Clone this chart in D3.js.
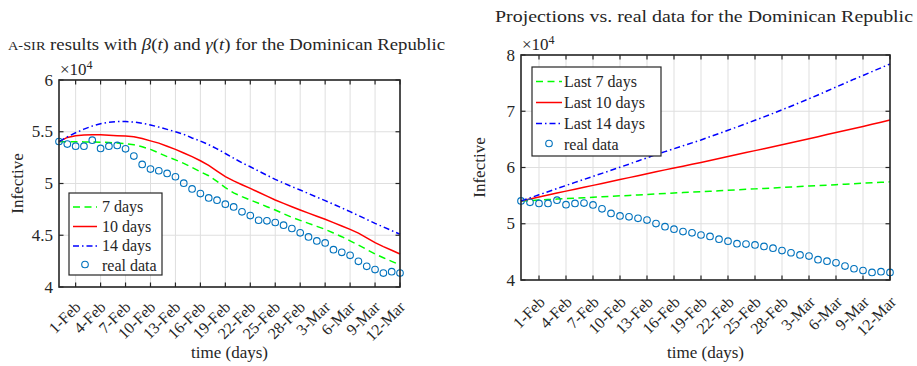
<!DOCTYPE html>
<html>
<head>
<meta charset="utf-8">
<script src="https://cdn.jsdelivr.net/npm/d3@7"></script>
<style>
  body { margin: 0; background: #fff; }
  svg text { font-family: 'Liberation Serif', 'DejaVu Serif', 'Times New Roman', serif; fill: #262626; }
</style>
</head>
<body>
<svg id="chart" width="917" height="366" font-family="Liberation Serif, DejaVu Serif, serif"></svg>
<script>
// first day of the series, one value per day after that
const startDate = new Date(2021, 0, 30);

const tickLabels = ["1-Feb", "4-Feb", "7-Feb", "10-Feb", "13-Feb", "16-Feb", "19-Feb",
  "22-Feb", "25-Feb", "28-Feb", "3-Mar", "6-Mar", "9-Mar", "12-Mar"];

// values in units of 10^4
const realData = [5.406, 5.381, 5.361, 5.361, 5.419, 5.339, 5.361, 5.368, 5.335, 5.265,
  5.184, 5.139, 5.123, 5.097, 5.065, 5.003, 4.948, 4.903, 4.861, 4.839,
  4.800, 4.774, 4.726, 4.690, 4.645, 4.639, 4.623, 4.597, 4.565, 4.523,
  4.484, 4.445, 4.426, 4.361, 4.335, 4.306, 4.248, 4.200, 4.168, 4.135,
  4.148, 4.135];

const fit7 = [5.404, 5.404, 5.403, 5.402, 5.401, 5.399, 5.396, 5.392, 5.385, 5.375,
  5.355, 5.330, 5.295, 5.260, 5.228, 5.195, 5.155, 5.114, 5.075, 5.020,
  4.960, 4.910, 4.873, 4.840, 4.809, 4.776, 4.744, 4.708, 4.673, 4.644,
  4.615, 4.586, 4.557, 4.522, 4.486, 4.446, 4.406, 4.362, 4.319, 4.283,
  4.248, 4.213];

const fit10 = [5.404, 5.445, 5.462, 5.468, 5.472, 5.472, 5.467, 5.462, 5.458, 5.452,
  5.435, 5.412, 5.390, 5.360, 5.330, 5.295, 5.260, 5.220, 5.175, 5.120,
  5.066, 5.025, 4.988, 4.953, 4.915, 4.878, 4.841, 4.808, 4.776, 4.744,
  4.714, 4.684, 4.654, 4.622, 4.590, 4.557, 4.520, 4.475, 4.428, 4.390,
  4.355, 4.319];

const fit14 = [5.404, 5.450, 5.490, 5.525, 5.555, 5.578, 5.592, 5.598, 5.598, 5.594,
  5.582, 5.566, 5.545, 5.523, 5.500, 5.475, 5.440, 5.410, 5.375, 5.335,
  5.290, 5.245, 5.200, 5.162, 5.120, 5.080, 5.040, 5.005, 4.970, 4.937,
  4.903, 4.868, 4.834, 4.800, 4.764, 4.728, 4.690, 4.653, 4.615, 4.580,
  4.545, 4.510];

const proj7 = [5.404, 5.413, 5.421, 5.430, 5.438, 5.446, 5.455, 5.463, 5.471, 5.479,
  5.488, 5.496, 5.504, 5.513, 5.521, 5.529, 5.537, 5.546, 5.554, 5.562,
  5.570, 5.578, 5.587, 5.595, 5.603, 5.612, 5.620, 5.628, 5.636, 5.645,
  5.653, 5.661, 5.670, 5.678, 5.686, 5.695, 5.703, 5.711, 5.720, 5.728,
  5.737, 5.745];

const proj10 = [5.404, 5.440, 5.475, 5.510, 5.545, 5.580, 5.614, 5.648, 5.682, 5.716,
  5.750, 5.785, 5.820, 5.855, 5.890, 5.925, 5.958, 5.990, 6.023, 6.056,
  6.090, 6.125, 6.160, 6.195, 6.230, 6.265, 6.300, 6.335, 6.370, 6.405,
  6.440, 6.476, 6.512, 6.548, 6.585, 6.622, 6.658, 6.694, 6.730, 6.768,
  6.806, 6.844];

const proj14 = [5.404, 5.460, 5.515, 5.570, 5.625, 5.680, 5.735, 5.788, 5.842, 5.896,
  5.950, 6.005, 6.060, 6.117, 6.173, 6.230, 6.282, 6.334, 6.386, 6.438,
  6.490, 6.547, 6.604, 6.662, 6.720, 6.780, 6.840, 6.900, 6.962, 7.026,
  7.090, 7.156, 7.222, 7.290, 7.360, 7.430, 7.500, 7.570, 7.635, 7.705,
  7.772, 7.840];

const fitNames = ["7 days", "10 days", "14 days", "real data"];
const projNames = ["Last 7 days", "Last 10 days", "Last 14 days", "real data"];
const leftYTicks = [4, 4.5, 5, 5.5, 6];
const rightYTicks = [4, 5, 6, 7, 8];

const lineStyles = [
  { color: "#00ff00", dash: "7,4.5" },
  { color: "#ff0000", dash: null },
  { color: "#0000ff", dash: "6,3,1.5,3" }
];
const dotColor = "#0072bd";

const svg = d3.select("#chart");
const parseTick = d3.timeParse("%d-%b-%Y");
const tickDates = tickLabels.map(l => parseTick(l + "-2021"));
const dates = realData.map((_, i) => d3.timeDay.offset(startDate, i));

function drawPanel(p) {
  const x = d3.scaleTime().domain([dates[0], dates[dates.length - 1]]).range([p.left, p.right]);
  const y = d3.scaleLinear().domain(p.yDomain).range([p.bottom, p.top]);
  const g = svg.append("g");

  // grid
  g.selectAll("line.vgrid").data(tickDates).enter().append("line")
    .attr("x1", d => x(d)).attr("x2", d => x(d))
    .attr("y1", p.top).attr("y2", p.bottom)
    .attr("stroke", "#dfdfdf").attr("stroke-width", 1);
  g.selectAll("line.hgrid").data(p.yTicks).enter().append("line")
    .attr("x1", p.left).attr("x2", p.right)
    .attr("y1", d => y(d)).attr("y2", d => y(d))
    .attr("stroke", "#dfdfdf").attr("stroke-width", 1);

  // series
  const line = d3.line().x((d, i) => x(dates[i])).y(d => y(d));
  p.series.forEach((s, k) => {
    g.append("path")
      .attr("d", line(s))
      .attr("fill", "none")
      .attr("stroke", lineStyles[k].color)
      .attr("stroke-width", 1.5)
      .attr("stroke-dasharray", lineStyles[k].dash);
  });
  g.selectAll("circle.real").data(realData).enter().append("circle")
    .attr("cx", (d, i) => x(dates[i])).attr("cy", d => y(d))
    .attr("r", 3.3).attr("fill", "none")
    .attr("stroke", dotColor).attr("stroke-width", 1.1);

  // ticks on all four sides, pointing inward
  const tl = 4.5;
  tickDates.forEach(d => {
    g.append("line").attr("x1", x(d)).attr("x2", x(d)).attr("y1", p.bottom).attr("y2", p.bottom - tl)
      .attr("stroke", "#262626").attr("stroke-width", 1.2);
    g.append("line").attr("x1", x(d)).attr("x2", x(d)).attr("y1", p.top).attr("y2", p.top + tl)
      .attr("stroke", "#262626").attr("stroke-width", 1.2);
  });
  p.yTicks.forEach(v => {
    g.append("line").attr("x1", p.left).attr("x2", p.left + tl).attr("y1", y(v)).attr("y2", y(v))
      .attr("stroke", "#262626").attr("stroke-width", 1.2);
    g.append("line").attr("x1", p.right).attr("x2", p.right - tl).attr("y1", y(v)).attr("y2", y(v))
      .attr("stroke", "#262626").attr("stroke-width", 1.2);
  });

  // box
  g.append("rect")
    .attr("x", p.left).attr("y", p.top)
    .attr("width", p.right - p.left).attr("height", p.bottom - p.top)
    .attr("fill", "none").attr("stroke", "#262626").attr("stroke-width", 1.6);

  // y tick labels
  g.selectAll("text.ylab").data(p.yTicks).enter().append("text")
    .attr("x", p.left - 6).attr("y", d => y(d) + 5.5)
    .attr("text-anchor", "end").attr("font-size", 17)
    .text(d => String(d));

  // x tick labels, rotated
  g.selectAll("text.xlab").data(tickDates).enter().append("text")
    .attr("transform", d => `translate(${x(d) + p.xlabDx},${p.bottom + p.xlabDy}) rotate(-45)`)
    .attr("text-anchor", "end").attr("font-size", 16)
    .text((d, i) => tickLabels[i]);

  // exponent
  const ex = g.append("text").attr("x", p.left + 1).attr("y", p.top - 5).attr("font-size", 17);
  ex.append("tspan").text("\u00d710");
  ex.append("tspan").attr("dy", -6).attr("font-size", 12).text("4");

  // axis labels
  g.append("text")
    .attr("transform", `translate(${p.left - 36},${(p.top + p.bottom) / 2}) rotate(-90)`)
    .attr("text-anchor", "middle").attr("font-size", 17)
    .text("Infective");
  g.append("text")
    .attr("x", (p.left + p.right) / 2).attr("y", 358)
    .attr("text-anchor", "middle").attr("font-size", 17)
    .text("time (days)");

  // legend
  const lg = p.legend;
  g.append("rect")
    .attr("x", lg.x).attr("y", lg.y).attr("width", lg.w).attr("height", lg.h)
    .attr("fill", "#fff").attr("stroke", "#262626").attr("stroke-width", 1.2);
  p.names.forEach((name, k) => {
    const cy = lg.y + lg.first + k * lg.step;
    if (k < 3) {
      g.append("line")
        .attr("x1", lg.x + 4).attr("x2", lg.x + 4 + lg.sample)
        .attr("y1", cy).attr("y2", cy)
        .attr("stroke", lineStyles[k].color).attr("stroke-width", 1.5)
        .attr("stroke-dasharray", lineStyles[k].dash);
    } else {
      g.append("circle")
        .attr("cx", lg.x + 4 + lg.sample / 2).attr("cy", cy - 1).attr("r", 3.3)
        .attr("fill", "none").attr("stroke", dotColor).attr("stroke-width", 1.1);
    }
    g.append("text")
      .attr("x", lg.x + lg.textX).attr("y", cy + 5)
      .attr("font-size", 16)
      .text(name);
  });
}

drawPanel({
  left: 59, right: 400, top: 80, bottom: 287,
  yDomain: [4, 6], yTicks: leftYTicks,
  series: [fit7, fit10, fit14],
  names: fitNames,
  xlabDx: 6, xlabDy: 21,
  legend: { x: 69, y: 193, w: 93, h: 82, first: 14, step: 19.5, sample: 24, textX: 33 }
});

drawPanel({
  left: 521, right: 890, top: 55, bottom: 280,
  yDomain: [4, 8], yTicks: rightYTicks,
  series: [proj7, proj10, proj14],
  names: projNames,
  xlabDx: 7, xlabDy: 23,
  legend: { x: 532, y: 67, w: 129, h: 89, first: 14.5, step: 21, sample: 26, textX: 32 }
});

// titles
const t1 = svg.append("text").attr("x", 8).attr("y", 50).attr("font-size", 17)
  .attr("textLength", 437).attr("lengthAdjust", "spacingAndGlyphs");
t1.append("tspan").attr("font-size", 13).text("A-SIR");
t1.append("tspan").text(" results with ");
t1.append("tspan").attr("font-style", "italic").text("\u03b2");
t1.append("tspan").text("(");
t1.append("tspan").attr("font-style", "italic").text("t");
t1.append("tspan").text(") and ");
t1.append("tspan").attr("font-style", "italic").text("\u03b3");
t1.append("tspan").text("(");
t1.append("tspan").attr("font-style", "italic").text("t");
t1.append("tspan").text(") for the Dominican Republic");

svg.append("text").attr("x", 495).attr("y", 22).attr("font-size", 17)
  .attr("textLength", 418).attr("lengthAdjust", "spacingAndGlyphs")
  .text("Projections vs. real data for the Dominican Republic");
</script>
</body>
</html>
